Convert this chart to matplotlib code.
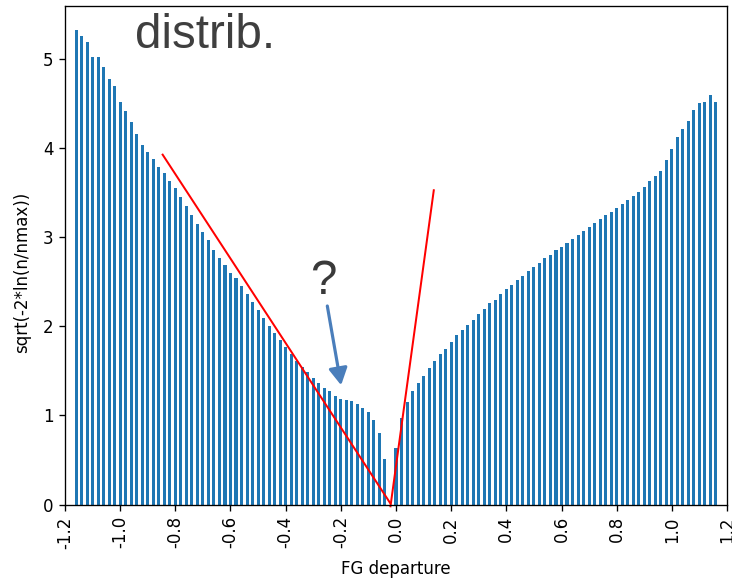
import numpy as np
import matplotlib
matplotlib.use("Agg")
import matplotlib.pyplot as plt

plt.rcParams["axes.unicode_minus"] = False

# sqrt(-2*ln(n/nmax)) per FG-departure bin (bins of 0.02, from -1.16 to 1.16)
heights = [
    5.33, 5.26, 5.19, 5.03, 5.03, 4.92, 4.78, 4.70, 4.52, 4.42,
    4.30, 4.16, 4.04, 3.96, 3.88, 3.79, 3.72, 3.63, 3.55, 3.45,
    3.35, 3.25, 3.15, 3.06, 2.97, 2.86, 2.77, 2.69, 2.60, 2.55,
    2.45, 2.36, 2.27, 2.18, 2.09, 2.01, 1.93, 1.85, 1.77, 1.69,
    1.61, 1.55, 1.49, 1.42, 1.37, 1.31, 1.27, 1.22, 1.19, 1.17,
    1.16, 1.13, 1.08, 1.04, 0.95, 0.80, 0.51, 0.00,
    0.63, 0.97, 1.15, 1.27, 1.36, 1.44, 1.53, 1.61, 1.69, 1.75,
    1.82, 1.90, 1.955, 2.015, 2.075, 2.135, 2.20, 2.26, 2.30, 2.36,
    2.42, 2.47, 2.52, 2.57, 2.62, 2.67, 2.71, 2.77, 2.80, 2.86,
    2.89, 2.94, 2.985, 3.03, 3.07, 3.12, 3.165, 3.21, 3.255, 3.285,
    3.33, 3.375, 3.42, 3.465, 3.51, 3.57, 3.63, 3.69, 3.75, 3.87,
    3.99, 4.13, 4.22, 4.31, 4.43, 4.51, 4.52, 4.60, 4.52,
]
bin_first, bin_last = -1.16, 1.16
centers = np.linspace(bin_first, bin_last, len(heights))

# hand-drawn slope guides (x, y)
guide_left_x = [-0.846, -0.022]
guide_left_y = [3.93, 0.02]
guide_right_x = [-0.020, 0.137]
guide_right_y = [-0.02, 3.53]

xticks = [-1.2, -1.0, -0.8, -0.6, -0.4, -0.2, 0.0, 0.2, 0.4, 0.6, 0.8, 1.0, 1.2]
yticks = [0, 1, 2, 3, 4, 5]

DPI = 120
fig = plt.figure(figsize=(732 / DPI, 578 / DPI), dpi=DPI)
ax = fig.add_axes([65 / 732, 1 - 504.5 / 578, 662 / 732, 498.5 / 578])

ax.bar(centers, heights, width=0.011, color="#1f77b4")
ax.set_xlim(-1.2, 1.2)
ax.set_ylim(0, 5.6)
ax.set_xticks(xticks)
ax.set_xticklabels([f"{t:.1f}" for t in xticks], rotation=90)
ax.set_yticks(yticks)
ax.set_xlabel("FG departure", labelpad=7)
ax.set_ylabel("sqrt(-2*ln(n/nmax))")
ax.yaxis.set_label_coords(-0.052, 0.466)

ax.plot(guide_left_x, guide_left_y, color="red", lw=1.2, clip_on=False)
ax.plot(guide_right_x, guide_right_y, color="red", lw=1.2, clip_on=False)

ax.annotate("", xy=(-0.199, 1.34), xytext=(-0.249, 2.23),
            arrowprops=dict(arrowstyle="-|>,head_length=1.0,head_width=0.55",
                            mutation_scale=8.5, color="#4a7ebb", lw=1.9,
                            shrinkA=0, shrinkB=0))

ax.text(-0.264, 2.51, "?", fontsize=28.5, color="#3a3a3a",
        family="Liberation Sans", ha="center", va="center")

fig.text(135 / 732, 1 - 48 / 578, "distrib.", fontsize=28.5, color="#3f3f3f",
         family="Liberation Sans", ha="left", va="baseline")

fig.savefig("out.png", dpi=DPI)
